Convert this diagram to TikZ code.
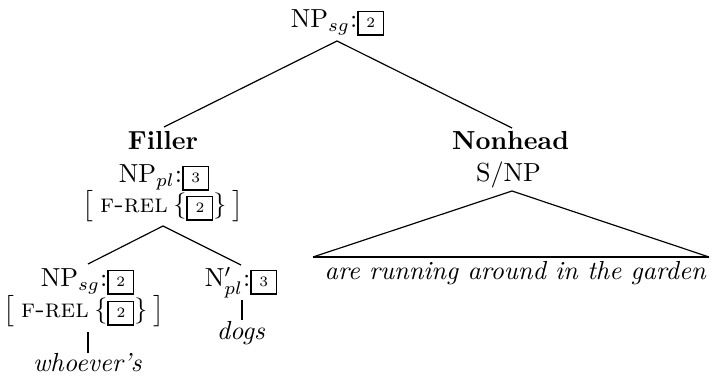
\documentclass[tikz,border=0pt]{standalone}

% boxed tag number, sitting on the baseline
\newcommand\tagnum[1]{{\setlength\fboxsep{0pt}\setlength\fboxrule{0.6pt}%
  \fbox{\makebox[9.1pt]{\rule[-2.4pt]{0pt}{8.5pt}\fontsize{5.5}{6}\selectfont #1}}}}
% feature bracket [ F-REL { n } ]
\newcommand\frel[1]{$\big[$\hspace{2.4pt}\textsc{f-rel}\hspace{2.2pt}$\{$\tagnum{#1}$\}$\hspace{2.2pt}$\big]$}

\begin{document}
\begin{tikzpicture}[x=0.3831pt,y=-0.3831pt,
  lbl/.style={anchor=base,inner sep=0pt},
  edge/.style={line width=0.45pt},
  stem/.style={line width=0.65pt},
  basebar/.style={line width=0.8pt}]
\useasboundingbox (0,0) rectangle (712,378);

% labels
\node[lbl] (root)    at (337.5,28) {$\mathrm{NP}_{sg}$:\tagnum{2}};
\node[lbl] (fill)    at (163,150)  {\textbf{Filler}};
\node[lbl] (fillcat) at (164,183)  {$\mathrm{NP}_{pl}$:\tagnum{3}};
\node[lbl] (fillrel) at (163,213)  {\frel{2}};
\node[lbl] (np)      at (87.5,287) {$\mathrm{NP}_{sg}$:\tagnum{2}};
\node[lbl] (nprel)   at (84,318)   {\frel{2}};
\node[lbl] (who)     at (87.5,372) {\textit{whoever's}};
\node[lbl] (nbar)    at (241,287)  {$\mathrm{N}'_{pl}$:\tagnum{3}};
\node[lbl] (dogs)    at (241,340)  {\textit{dogs}};
\node[lbl] (nonhead) at (510.5,150){\textbf{Nonhead}};
\node[lbl] (snp)     at (508.5,182){S/NP};
\node[lbl] (vp)      at (515.5,280){\textit{are running around in the garden}};

% branch points
\coordinate (root-foot)  at (337,41);
\coordinate (fill-head)  at (164,127);
\coordinate (nonh-head)  at (512,128);
\coordinate (fill-foot)  at (163,226);
\coordinate (np-head)    at (88,264);
\coordinate (nbar-head)  at (241,265);
\coordinate (np-foot)    at (88,332);
\coordinate (who-head)   at (88,353);
\coordinate (nbar-foot)  at (242,300);
\coordinate (dogs-head)  at (242,320);
\coordinate (tri-apex)   at (512,191);
\coordinate (tri-left)   at (313,257);
\coordinate (tri-right)  at (709,257);

% branches
\draw[edge] (fill-head) -- (root-foot) -- (nonh-head);
\draw[edge] (np-head) -- (fill-foot) -- (nbar-head);
\draw[stem] (np-foot) -- (who-head);
\draw[stem] (nbar-foot) -- (dogs-head);
\draw[edge] (tri-left) -- (tri-apex) -- (tri-right);
\draw[basebar] (tri-left) -- (tri-right);
\end{tikzpicture}
\end{document}
